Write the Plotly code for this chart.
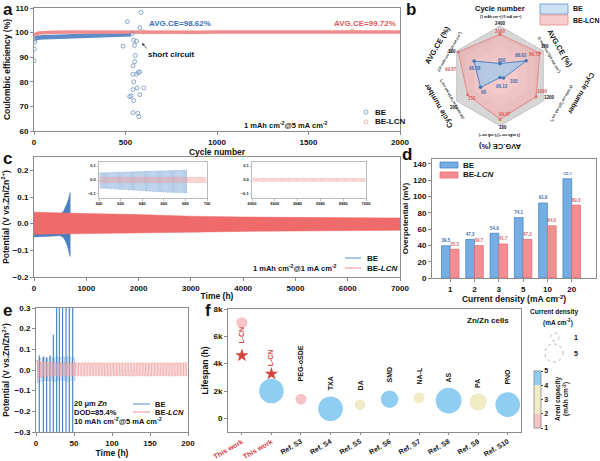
import plotly.graph_objects as go

W, H = 600, 461
FONT = "Liberation Sans, Arial, Helvetica, sans-serif"

BE_BLUE = "#4a7fbf"
LCN_RED = "#ef6b6b"
TXT_BLUE = "#3b6fb6"
TXT_RED = "#e05a5a"
AX = "#8c8c8c"


def fx(p):
    return p / W


def fy(p):
    return 1 - p / H


# ---------------- (a) Coulombic efficiency ----------------
A_BE_BAND_CYC = [3, 20, 50, 100, 150, 200, 250, 300, 350, 400, 450, 500, 530]
A_BE_BAND_CE = [97.8, 98.0, 98.1, 98.2, 98.3, 98.4, 98.5, 98.5, 98.6, 98.6, 98.7, 98.9, 99.3]
A_LCN_BAND_CYC = [0, 10, 25, 50, 100, 200, 300, 400, 500, 600, 700, 800, 900, 1000,
                  1100, 1200, 1300, 1400, 1500, 1600, 1700, 1800, 1900, 2000]
A_LCN_BAND_CE = [98.8, 99.4, 99.8, 100.0, 100.1, 100.2, 100.15, 100.2, 100.2, 100.15, 100.2,
                 100.2, 100.15, 100.2, 100.2, 100.15, 100.2, 100.2, 100.15, 100.2, 100.25,
                 100.2, 100.15, 100.2]
A_LCN_OUT_CYC = [596, 1740]
A_LCN_OUT_CE = [100.3, 100.6]
A_BE_PTS_CYC = [0, 2, 5, 7, 487, 510, 523, 531, 536, 540, 541, 541, 541, 545, 545, 545,
                549, 550, 554, 560, 560, 563, 567, 569, 573, 578, 578, 578, 585, 600]
A_BE_PTS_CE = [88.6, 93.4, 96.2, 97.3, 94.5, 104.5, 74.0, 74.3, 99.6, 83.0, 76.8, 67.5,
               86.5, 96.9, 80.0, 72.4, 94.8, 88.2, 90.7, 96.5, 83.1, 77.5, 67.2, 83.8,
               65.8, 102.0, 84.0, 74.8, 108.2, 77.5]

# ---------------- (b) radar ----------------
B_AXES = ["cyc1", "ce1", "cyc2", "ce2", "cyc3", "ce3"]
B_AX_MIN = [0, 96.5, 0, 96.0, 0, 91.0]
B_AX_MAX = [2400, 100, 1200, 100, 200, 100]
B_BE = [600, 98.62, 100, 96.13, 90, 96.38]
B_LCN = [2000, 99.72, 1000, 99.47, 150, 99.67]
B_RINGS = [1.0, 0.8, 0.6, 0.4, 0.2]
B_RING_COL = ["#d6d6d6", "#e0e0e0", "#eaeaea", "#f2f2f2", "#f8f8f8"]

# ---------------- (c) long cycling ----------------
C_BE_T = [0, 300, 500, 560, 600, 640, 670, 690, 697]
C_BE_UP = [0.04, 0.038, 0.036, 0.045, 0.06, 0.08, 0.1, 0.117, 0.11]
C_BE_LO = [-0.05, -0.047, -0.045, -0.052, -0.065, -0.085, -0.105, -0.123, -0.11]
C_LCN_T = [0, 500, 1000, 2000, 3000, 4000, 5000, 6000, 7000]
C_LCN_UP = [0.043, 0.04, 0.038, 0.034, 0.028, 0.025, 0.023, 0.022, 0.021]
C_LCN_LO = [-0.04, -0.039, -0.038, -0.036, -0.032, -0.029, -0.027, -0.026, -0.025]
# insets: one value per cycle (2 h period, 1 mA cm-2, 1 mAh cm-2)
C_IN1_T0 = 600
C_IN1_BE_UP = [0.050, 0.052, 0.051, 0.053, 0.052, 0.054, 0.053, 0.055, 0.054, 0.056,
               0.055, 0.057, 0.056, 0.058, 0.057, 0.059, 0.058, 0.060, 0.059, 0.061,
               0.060, 0.062, 0.061, 0.063, 0.062, 0.064, 0.063, 0.065, 0.064, 0.066,
               0.065, 0.067, 0.066, 0.068, 0.067, 0.069, 0.068, 0.070, 0.069, 0.071, 0.070]
C_IN1_BE_LO = [-0.057, -0.059, -0.058, -0.061, -0.060, -0.063, -0.062, -0.065, -0.064, -0.067,
               -0.066, -0.069, -0.068, -0.071, -0.070, -0.073, -0.072, -0.075, -0.074, -0.077,
               -0.076, -0.079, -0.078, -0.081, -0.080, -0.083, -0.082, -0.085, -0.084, -0.087,
               -0.086, -0.088, -0.087, -0.089, -0.088, -0.090, -0.089, -0.091, -0.090, -0.093, -0.092]
C_IN1_LCN_UP = [0.020, 0.019, 0.021, 0.020, 0.019, 0.020, 0.021, 0.020, 0.019, 0.020,
                0.021, 0.020, 0.019, 0.020, 0.021, 0.020, 0.019, 0.020, 0.021, 0.020,
                0.019, 0.020, 0.021, 0.020, 0.019, 0.020, 0.021, 0.020, 0.019, 0.020,
                0.021, 0.020, 0.019, 0.020, 0.021, 0.020, 0.019, 0.020, 0.021, 0.020,
                0.019, 0.020, 0.021, 0.020, 0.019, 0.020, 0.021, 0.020, 0.019, 0.020]
C_IN1_LCN_LO = [-0.018, -0.019, -0.017, -0.018, -0.019, -0.018, -0.017, -0.018, -0.019, -0.018,
                -0.017, -0.018, -0.019, -0.018, -0.017, -0.018, -0.019, -0.018, -0.017, -0.018,
                -0.019, -0.018, -0.017, -0.018, -0.019, -0.018, -0.017, -0.018, -0.019, -0.018,
                -0.017, -0.018, -0.019, -0.018, -0.017, -0.018, -0.019, -0.018, -0.017, -0.018,
                -0.019, -0.018, -0.017, -0.018, -0.019, -0.018, -0.017, -0.018, -0.019, -0.018]
C_IN2_T0 = 6900
C_IN2_LCN_UP = [0.012, 0.013, 0.011, 0.012, 0.014, 0.012, 0.011, 0.013, 0.012, 0.012,
                0.013, 0.011, 0.012, 0.014, 0.012, 0.011, 0.013, 0.012, 0.012, 0.013,
                0.011, 0.012, 0.014, 0.012, 0.011, 0.013, 0.012, 0.012, 0.013, 0.011,
                0.012, 0.014, 0.012, 0.011, 0.013, 0.012, 0.012, 0.013, 0.011, 0.012,
                0.014, 0.012, 0.011, 0.013, 0.012, 0.012, 0.013, 0.011, 0.012, 0.013]
C_IN2_LCN_LO = [-0.010, -0.011, -0.009, -0.010, -0.012, -0.010, -0.009, -0.011, -0.010, -0.010,
                -0.011, -0.009, -0.010, -0.012, -0.010, -0.009, -0.011, -0.010, -0.010, -0.011,
                -0.009, -0.010, -0.012, -0.010, -0.009, -0.011, -0.010, -0.010, -0.011, -0.009,
                -0.010, -0.012, -0.010, -0.009, -0.011, -0.010, -0.010, -0.011, -0.009, -0.010,
                -0.012, -0.010, -0.009, -0.011, -0.010, -0.010, -0.011, -0.009, -0.010, -0.011]

# ---------------- (d) overpotential ----------------
D_CD = ["1", "2", "3", "5", "10", "20"]
D_BE = [39.5, 47.3, 54.9, 74.1, 91.9, 121.7]
D_LCN = [35.3, 39.7, 41.7, 47.3, 64.0, 89.3]

# ---------------- (e) 20 um Zn, DOD 85.4% ----------------
E_HALF = 2.0  # h per half cycle (10 mAh cm-2 @ 5 mA cm-2)
E_LCN_UP = [0.045, 0.040, 0.038, 0.036, 0.035, 0.035, 0.034, 0.034, 0.034, 0.034,
            0.034, 0.034, 0.034, 0.034, 0.034, 0.034, 0.035, 0.034, 0.034, 0.034,
            0.034, 0.034, 0.034, 0.034, 0.034, 0.034, 0.034, 0.034, 0.034, 0.034,
            0.034, 0.034, 0.034, 0.034, 0.034, 0.034, 0.034, 0.034, 0.034, 0.034,
            0.034, 0.034, 0.034, 0.034, 0.034, 0.034, 0.034, 0.034, 0.034, 0.035]
E_LCN_LO = [-0.045, -0.035, -0.032, -0.030, -0.029, -0.029, -0.028, -0.028, -0.028, -0.028,
            -0.028, -0.028, -0.028, -0.028, -0.028, -0.028, -0.028, -0.028, -0.028, -0.028,
            -0.028, -0.028, -0.028, -0.028, -0.028, -0.028, -0.028, -0.028, -0.028, -0.028,
            -0.028, -0.028, -0.028, -0.028, -0.028, -0.028, -0.028, -0.028, -0.028, -0.028,
            -0.028, -0.028, -0.028, -0.028, -0.028, -0.028, -0.028, -0.028, -0.028, -0.028]
E_BE_HALF = 2.2
E_BE_UP = [0.045, 0.055, 0.06, 0.058, 0.062, 0.06, 0.065, 0.06, 0.062, 0.065, 0.06, 0.058]
E_BE_LO = [-0.06, -0.055, -0.05, -0.052, -0.05, -0.055, -0.05, -0.052, -0.05, -0.055, -0.05, -0.05]
E_SPK_T = [4.3, 9.6, 14.0, 18.4, 22.8, 27.2, 30.7, 35.0, 39.5, 43.8, 48.3]
E_SPK_UP = [0.07, 0.065, 0.06, 0.07, 0.17, 0.4, 0.4, 0.4, 0.4, 0.4, 0.4]
E_SPK_LO = [-0.4, -0.4, -0.4, -0.4, -0.4, -0.4, -0.4, -0.4, -0.4, -0.4, -0.4]

# ---------------- (f) comparison ----------------
F_TICKS = ["This work", "This work", "Ref. S3", "Ref. S4", "Ref. S5", "Ref. S6",
           "Ref. S7", "Ref. S8", "Ref. S9", "Ref. S10"]
F_NAMES = ["L-CN", "L-CN", "PEG-oSDE", "TXA", "DA", "SMD", "NA-L", "AS", "PA", "PNO"]
F_LIFE = [7000, 2000, 1400, 700, 1000, 1400, 1500, 1300, 1200, 1000]
F_CD = [1, 5, 1, 5, 1, 2.5, 1, 5.5, 2.5, 5]
F_CAP = [1.5, 4.5, 1.5, 4.5, 3, 4.5, 3, 4.5, 3, 4.5]
F_NAME_BASE = [5350, 3650, 2550, 1950, 1900, 2450, 2300, 2450, 2050, 2300]
F_STAR_IDX = [0, 1]
F_STAR_LIFE = [4600, 3250]


def square_wave(t0, half, ups, los):
    xs, ys = [], []
    t = t0
    for u, l in zip(ups, los):
        xs += [t, t + half, t + half, t + 2 * half]
        ys += [u, u, l, l]
        t += 2 * half
    return xs, ys


fig = go.Figure()

# ===== (a) =====
fig.add_trace(go.Scatter(x=A_BE_BAND_CYC, y=A_BE_BAND_CE, mode="lines",
                         line=dict(color="#5d8cc6", width=4.5), xaxis="x", yaxis="y"))
fig.add_trace(go.Scatter(x=A_LCN_BAND_CYC, y=A_LCN_BAND_CE, mode="lines",
                         line=dict(color="#f28c8c", width=3.5), xaxis="x", yaxis="y"))
fig.add_trace(go.Scatter(x=A_BE_PTS_CYC, y=A_BE_PTS_CE, mode="markers",
                         marker=dict(symbol="circle-open", size=4, color="#6f93bd",
                                     line=dict(width=0.8)), xaxis="x", yaxis="y"))
fig.add_trace(go.Scatter(x=A_LCN_OUT_CYC, y=A_LCN_OUT_CE, mode="markers",
                         marker=dict(symbol="circle-open", size=4, color="#f28c8c",
                                     line=dict(width=0.8)), xaxis="x", yaxis="y"))

# ===== (b) radar =====
theta_closed = B_AXES + [B_AXES[0]]
for lvl, col in zip(B_RINGS, B_RING_COL):
    fig.add_trace(go.Scatterpolar(r=[lvl] * 7, theta=theta_closed, mode="lines",
                                  fill="toself", fillcolor=col, line=dict(width=0),
                                  subplot="polar", hoverinfo="skip"))


def norm(vals):
    return [(v - lo) / (hi - lo) for v, lo, hi in zip(vals, B_AX_MIN, B_AX_MAX)]


lcn_r = norm(B_LCN)
be_r = norm(B_BE)
fig.add_trace(go.Scatterpolar(r=lcn_r + [lcn_r[0]], theta=theta_closed, mode="lines+markers",
                              fill="toself", fillcolor="rgba(244,150,150,0.45)",
                              line=dict(color="#e58a8a", width=1),
                              marker=dict(size=3, color="#e07070"), subplot="polar"))
fig.add_trace(go.Scatterpolar(r=be_r + [be_r[0]], theta=theta_closed, mode="lines+markers",
                              fill="toself", fillcolor="rgba(160,200,235,0.75)",
                              line=dict(color="#4f86c6", width=1),
                              marker=dict(size=3.5, color="#3f78bb"), subplot="polar"))

# ===== (c) =====
fig.add_trace(go.Scatter(x=C_BE_T, y=C_BE_UP, mode="lines", line=dict(color=BE_BLUE, width=0.5),
                         xaxis="x2", yaxis="y2"))
fig.add_trace(go.Scatter(x=C_BE_T, y=C_BE_LO, mode="lines", line=dict(color=BE_BLUE, width=0.5),
                         fill="tonexty", fillcolor=BE_BLUE, xaxis="x2", yaxis="y2"))
fig.add_trace(go.Scatter(x=C_LCN_T, y=C_LCN_UP, mode="lines", line=dict(color=LCN_RED, width=0.5),
                         xaxis="x2", yaxis="y2"))
fig.add_trace(go.Scatter(x=C_LCN_T, y=C_LCN_LO, mode="lines", line=dict(color=LCN_RED, width=0.5),
                         fill="tonexty", fillcolor=LCN_RED, xaxis="x2", yaxis="y2"))
# inset 1
xs, ys = square_wave(C_IN1_T0, 1.0, C_IN1_BE_UP, C_IN1_BE_LO)
fig.add_trace(go.Scatter(x=xs, y=ys, mode="lines", line=dict(color="#7aa6d6", width=0.6),
                         xaxis="x3", yaxis="y3"))
xs, ys = square_wave(C_IN1_T0, 1.0, C_IN1_LCN_UP, C_IN1_LCN_LO)
fig.add_trace(go.Scatter(x=xs, y=ys, mode="lines", line=dict(color="#f09a9a", width=0.5),
                         xaxis="x3", yaxis="y3"))
# inset 2
xs, ys = square_wave(C_IN2_T0, 1.0, C_IN2_LCN_UP, C_IN2_LCN_LO)
fig.add_trace(go.Scatter(x=xs, y=ys, mode="lines", line=dict(color="#f09a9a", width=0.5),
                         xaxis="x4", yaxis="y4"))

# ===== (d) =====
fig.add_trace(go.Bar(x=D_CD, y=D_BE, name="BE",
                     marker=dict(color="#74aee3", line=dict(color="#4a86c6", width=0.8)),
                     text=[f"{v:.1f}" for v in D_BE], textposition="outside",
                     textfont=dict(color=TXT_BLUE, size=7), cliponaxis=False,
                     xaxis="x5", yaxis="y5"))
fig.add_trace(go.Bar(x=D_CD, y=D_LCN, name="BE-LCN",
                     marker=dict(color="#f58e92", line=dict(color="#e56c72", width=0.8)),
                     text=[f"{v:.1f}" for v in D_LCN], textposition="outside",
                     textfont=dict(color="#e0686e", size=7), cliponaxis=False,
                     xaxis="x5", yaxis="y5"))

# ===== (e) =====
xs, ys = square_wave(0, E_BE_HALF, E_BE_UP, E_BE_LO)
fig.add_trace(go.Scatter(x=xs, y=ys, mode="lines", line=dict(color="#9cc0e4", width=0.8),
                         xaxis="x6", yaxis="y6"))
sx, sy = [], []
for t, u, l in zip(E_SPK_T, E_SPK_UP, E_SPK_LO):
    sx += [t, t, None]
    sy += [l, u, None]
fig.add_trace(go.Scatter(x=sx, y=sy, mode="lines", line=dict(color="#3f7bc2", width=1.1),
                         xaxis="x6", yaxis="y6"))
xs, ys = square_wave(0, E_HALF, E_LCN_UP, E_LCN_LO)
fig.add_trace(go.Scatter(x=xs, y=ys, mode="lines", line=dict(color="#ee9a9a", width=0.7),
                         fill="toself", fillcolor="rgba(246,200,200,0.35)",
                         xaxis="x6", yaxis="y6"))

# ===== (f) =====
F_X = list(range(len(F_TICKS)))
fig.add_trace(go.Scatter(
    x=F_X, y=F_LIFE, mode="markers", xaxis="x7", yaxis="y7",
    marker=dict(size=F_CD, sizemode="area", sizeref=0.0165, color=F_CAP, cmin=1, cmax=5,
                opacity=1, line=dict(width=0),
                colorscale=[[0, "#f6c4c7"], [0.25, "#f6c4c7"], [0.25, "#f1ecc6"],
                            [0.75, "#f1ecc6"], [0.75, "#8fcdf3"], [1, "#8fcdf3"]],
                showscale=True,
                colorbar=dict(x=fx(534), xanchor="left", y=fy(399.5), yanchor="middle",
                              len=57 / H, lenmode="fraction", thickness=7,
                              thicknessmode="pixels", xpad=0, ypad=0,
                              outlinewidth=0.8, outlinecolor="#888",
                              tickvals=[1, 2, 3, 4, 5], ticks="outside", ticklen=2,
                              tickfont=dict(size=7)))))
fig.add_trace(go.Scatter(x=[F_X[i] for i in F_STAR_IDX], y=F_STAR_LIFE, mode="markers",
                         marker=dict(symbol="star", size=10, color="#d6433d"),
                         xaxis="x7", yaxis="y7"))

# ---------------- layout ----------------
def axis_style(**kw):
    d = dict(showline=True, mirror=True, linecolor=AX, linewidth=1, ticks="outside",
             ticklen=3, tickcolor=AX, showgrid=False, zeroline=False, automargin=False,
             tickfont=dict(size=8, color="#111"), title=dict(font=dict(size=8.5, color="#111")))
    d.update(kw)
    return d


layout = dict(
    width=W, height=H, margin=dict(l=0, r=0, t=0, b=0, autoexpand=False),
    paper_bgcolor="white", plot_bgcolor="white", showlegend=False,
    font=dict(family=FONT, size=8, color="#111", weight="bold"),
    barmode="group", bargap=0.28, bargroupgap=0,
    # (a)
    xaxis=axis_style(domain=[fx(34), fx(400)], anchor="y", range=[0, 2000],
                     tickvals=[0, 500, 1000, 1500, 2000],
                     title=dict(text="Cycle number", standoff=1, font=dict(size=8.5))),
    yaxis=axis_style(domain=[fy(131), fy(8)], anchor="x", range=[60, 110], dtick=10,
                     title=dict(text="Coulombic efficiency (%)", standoff=3, font=dict(size=8.5))),
    # (c)
    xaxis2=axis_style(domain=[fx(34), fx(400)], anchor="y2", range=[0, 7000], dtick=1000,
                      title=dict(text="Time (h)", standoff=1, font=dict(size=8.5))),
    yaxis2=axis_style(domain=[fy(277), fy(157)], anchor="x2", range=[-0.2, 0.25],
                      tickvals=[-0.2, -0.1, 0, 0.1, 0.2],
                      ticktext=["\u22120.2", "\u22120.1", "0.0", "0.1", "0.2"],
                      title=dict(text="Potential (V vs.Zn/Zn<sup>2+</sup>)", standoff=3,
                                 font=dict(size=8.5))),
    # insets
    xaxis3=axis_style(domain=[fx(99), fx(207)], anchor="y3", range=[600, 700],
                      tickvals=[600, 620, 640, 660, 680, 700], ticklen=1.5,
                      linecolor="#bbb", tickcolor="#bbb", tickfont=dict(size=4)),
    yaxis3=axis_style(domain=[fy(198), fy(162)], anchor="x3", range=[-0.129, 0.129],
                      tickvals=[-0.1, 0, 0.1], ticktext=["\u22120.1", "0.0", "0.1"], ticklen=1.5,
                      linecolor="#bbb", tickcolor="#bbb", tickfont=dict(size=4)),
    xaxis4=axis_style(domain=[fx(252), fx(366)], anchor="y4", range=[6900, 7000],
                      tickvals=[6900, 6920, 6940, 6960, 6980, 7000], ticklen=1.5,
                      linecolor="#bbb", tickcolor="#bbb", tickfont=dict(size=4)),
    yaxis4=axis_style(domain=[fy(198), fy(162)], anchor="x4", range=[-0.129, 0.129],
                      tickvals=[-0.1, 0, 0.1], ticktext=["\u22120.1", "0.0", "0.1"], ticklen=1.5,
                      linecolor="#bbb", tickcolor="#bbb", tickfont=dict(size=4)),
    # (d)
    xaxis5=axis_style(domain=[fx(432), fx(596)], anchor="y5", range=[-0.75, 6.0],
                      type="category",
                      title=dict(text="Current density (mA cm<sup>-2</sup>)", standoff=1,
                                 font=dict(size=8.5))),
    yaxis5=axis_style(domain=[fy(278), fy(159)], anchor="x5", range=[0, 146], dtick=20,
                      title=dict(text="Overpotential (mV)", standoff=3, font=dict(size=8))),
    # (e)
    xaxis6=axis_style(domain=[fx(36), fx(188)], anchor="y6", range=[0, 200], dtick=50,
                      title=dict(text="Time (h)", standoff=1, font=dict(size=8.5))),
    yaxis6=axis_style(domain=[fy(432), fy(308)], anchor="x6", range=[-0.3, 0.3],
                      tickvals=[-0.3, -0.2, -0.1, 0, 0.1, 0.2, 0.3],
                      ticktext=["\u22120.3", "\u22120.2", "\u22120.1", "0.0", "0.1", "0.2", "0.3"],
                      title=dict(text="Potential (V vs.Zn/Zn<sup>2+</sup>)", standoff=3,
                                 font=dict(size=8.5))),
    # (f)
    xaxis7=axis_style(domain=[fx(228), fx(521)], anchor="y7", range=[-0.47, 9.45],
                      tickvals=F_X, tickangle=-30, ticklen=2, tickfont=dict(size=7, color="#111"),
                      ticktext=[("<span style='color:#d63c3c'>%s</span>" % t) if i < 2 else t
                                for i, t in enumerate(F_TICKS)]),
    yaxis7=axis_style(domain=[fy(432), fy(309)], anchor="x7", range=[-1000, 8000],
                      tickvals=[0, 2000, 4000, 6000, 8000], ticktext=["0", "2k", "4k", "6k", "8k"],
                      title=dict(text="Lifespan (h)", standoff=3, font=dict(size=8.5))),
    polar=dict(domain=dict(x=[fx(450), fx(550)], y=[fy(126), fy(26)]),
               gridshape="linear", bgcolor="rgba(0,0,0,0)",
               radialaxis=dict(range=[0, 1], visible=False),
               angularaxis=dict(rotation=90, direction="clockwise", showticklabels=False,
                                ticks="", showgrid=True, gridcolor="#c4c4c4",
                                linecolor="#c4c4c4", type="category",
                                categoryarray=B_AXES)),
)
fig.update_layout(**layout)

ann = []


def T(x, y, text, size=8, color="#111", angle=0, xanchor="center", yanchor="middle", **kw):
    d = dict(x=fx(x), y=fy(y), xref="paper", yref="paper", text=text, showarrow=False,
             font=dict(size=size, color=color), textangle=angle, xanchor=xanchor,
             yanchor=yanchor)
    d.update(kw)
    ann.append(d)


# panel letters
for lx, ly, lt in [(1, 10, "a"), (404, 10, "b"), (1, 158, "c"), (400, 154, "d"),
                   (1, 310, "e"), (203, 310, "f")]:
    T(lx, ly, lt, size=17, xanchor="left")

# (a) texts
T(180, 24, "AVG.CE=98.62%", size=8, color=TXT_BLUE)
T(365, 24, "AVG.CE=99.72%", size=8, color=TXT_RED)
T(146, 55, "short circuit", size=8, xanchor="left")
ann.append(dict(x=fx(142), y=fy(43), ax=6, ay=7, xref="paper", yref="paper",
                text="", showarrow=True, arrowhead=2,
                arrowsize=0.7, arrowwidth=0.8, arrowcolor="#333"))
T(286, 125, "1 mAh cm<sup>-2</sup>@5 mA cm<sup>-2</sup>", size=7.5)
T(373, 112, "BE", size=8, xanchor="left")
T(373, 122, "BE-LCN", size=8, xanchor="left")

# (b) texts
B_LAB = [  # (x, y, text, angle, size)
    (500, 9, "Cycle number", 0, 7.5), (500, 17, "(1 mAh cm<sup>-2</sup>@5 mA cm<sup>-2</sup>)", 0, 3.5),
    (560, 48, "AVG.CE (%)", 60, 7.5), (549, 54, "(1 mAh cm<sup>-2</sup>@5 mA cm<sup>-2</sup>)", 60, 3.5),
    (581, 93, "Cycle number", 120, 7), (562, 103, "(5 mAh cm<sup>-2</sup>@5 mA cm<sup>-2</sup>)", 120, 3.5),
    (500, 146, "AVG.CE (%)", 180, 7.5), (500, 135, "(5 mAh cm<sup>-2</sup>@5 mA cm<sup>-2</sup>)", 180, 3.5),
    (438, 106, "Cycle number", -120, 7.5), (452, 100, "(10 mAh cm<sup>-2</sup>@10 mA cm<sup>-2</sup>)", -120, 3.5),
    (437, 45, "AVG.CE (%)", -60, 7.5), (449, 52, "(10 mAh cm<sup>-2</sup>@10 mA cm<sup>-2</sup>)", -60, 3.5),
]
for x, y, t, a, s in B_LAB:
    T(x, y, t, size=s, angle=a)
for x, y, t in [(500, 24, "2400"), (545, 46, "100"), (549, 97, "1200"), (503, 128, "100"),
                (454, 107, "200"), (452, 51, "100")]:
    T(x, y, t, size=4.5)
for x, y, t in [(500, 32, "2000"), (535, 54, "99.72"), (542, 91, "1000"), (505, 114, "99.47"),
                (472, 99, "150"), (451, 69, "99.67")]:
    T(x, y, t, size=4.5, color=TXT_RED)
for x, y, t in [(502, 61, "600"), (521, 56, "98.62"), (514, 81, "100"), (502, 86, "96.13"),
                (484, 92, "90"), (475, 68, "96.38")]:
    T(x, y, t, size=4.5, color=TXT_BLUE)
T(571, 9, "BE", size=7, xanchor="left")
T(571, 20, "BE-LCN", size=7, xanchor="left")

# (c) texts
T(295, 268, "1 mAh cm<sup>-2</sup>@1 mA cm<sup>-2</sup>", size=7.5)
T(365, 258, "BE", size=8, xanchor="left")
T(365, 268, "BE-<i>LCN</i>", size=8, xanchor="left")

# (d) legend texts
T(461, 165, "BE", size=8, xanchor="left")
T(461, 175, "BE-<i>LCN</i>", size=8, xanchor="left")

# (e) texts
T(72, 403, "20 \u03bcm <i>Zn</i>", size=7.5, xanchor="left")
T(72, 412, "DOD=85.4%", size=7.5, xanchor="left")
T(72, 421, "10 mAh cm<sup>-2</sup>@5 mA cm<sup>-2</sup>", size=7.5, xanchor="left")
T(153, 404, "BE", size=7.5, xanchor="left")
T(153, 412, "BE-<i>LCN</i>", size=7.5, xanchor="left")

# (f) texts
for i, (nm, yb) in enumerate(zip(F_NAMES, F_NAME_BASE)):
    ann.append(dict(x=F_X[i], y=yb, xref="x7", yref="y7", text=nm, showarrow=False,
                    textangle=-90, yanchor="bottom", xanchor="center",
                    font=dict(size=7, color="#d63c3c" if i < 2 else "#111")))
T(488, 320, "Zn/Zn cells", size=8)
T(554, 312, "Current density", size=6.5)
T(558, 322, "(mA cm<sup>-2</sup>)", size=6.5)
T(572, 337, "1", size=7, xanchor="left")
T(572, 353, "5", size=7, xanchor="left")
T(562, 399, "Areal capacity<br>(mAh cm<sup>-2</sup>)", size=6.5, angle=-90)

fig.update_layout(annotations=ann)


def rect(x0, y0, x1, y1, fill, line, w=0.8):
    return dict(type="rect", xref="paper", yref="paper", x0=fx(x0), x1=fx(x1),
                y0=fy(y1), y1=fy(y0), fillcolor=fill, line=dict(color=line, width=w))


def hline(x0, x1, y, color, w=1.2):
    return dict(type="line", xref="paper", yref="paper", x0=fx(x0), x1=fx(x1),
                y0=fy(y), y1=fy(y), line=dict(color=color, width=w))


def circ(cx, cy, r, color, w=0.8, dash="solid"):
    return dict(type="circle", xref="paper", yref="paper", x0=fx(cx - r), x1=fx(cx + r),
                y0=fy(cy + r), y1=fy(cy - r), line=dict(color=color, width=w, dash=dash))


shapes = [
    # (a) legend
    circ(366, 112, 2, "#6f93bd"), circ(366, 122, 2, "#f2a0a0"),
    # (b) legend
    rect(540, 4, 568, 14, "#cfe2f4", "#5b90c8"),
    rect(540, 15, 568, 25, "#f7cccc", "#e58a8a"),
    # (c) legend
    hline(345, 361, 258, "#6f9bd0"), hline(345, 361, 268, "#f0a0a0"),
    # (d) legend
    rect(440, 162, 458, 168, "#74aee3", "#4a86c6"),
    rect(440, 172, 458, 178, "#f58e92", "#e56c72"),
    # (e) legend
    hline(133, 150, 404, "#6f9bd0"), hline(133, 150, 412, "#f0a0a0"),
    # (f) size legend
    circ(555, 337, 4, "#999", 0.7, "dot"), circ(554, 353, 9, "#999", 0.7, "dot"),
]
fig.update_layout(shapes=shapes)

fig.write_html("out.html", config={"displayModeBar": False},
               post_script="document.body.style.margin='0';document.body.style.overflow='hidden';")
